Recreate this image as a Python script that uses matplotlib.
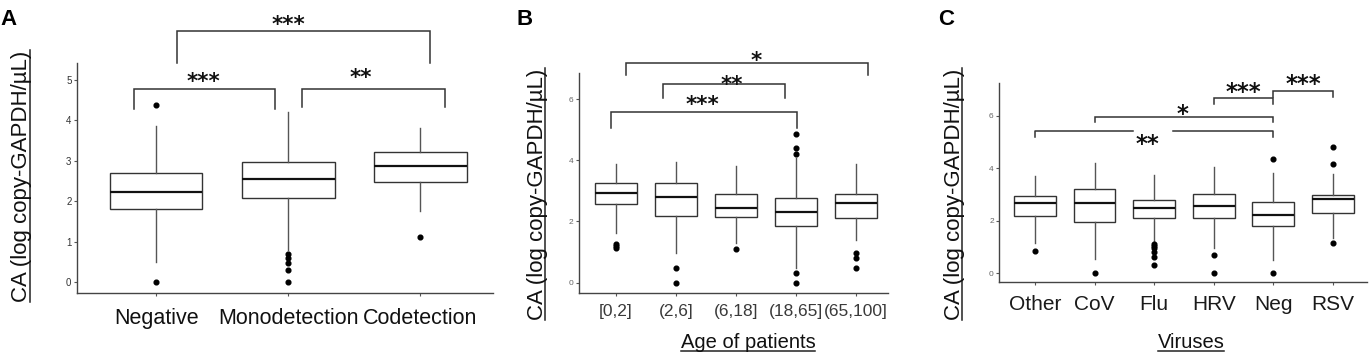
import matplotlib
matplotlib.use("Agg")
import matplotlib.pyplot as plt
from matplotlib.lines import Line2D

plt.rcParams['font.family'] = ['Liberation Sans', 'DejaVu Sans']

# ---------------- data ----------------
# Panel A
cats_a = ["Negative", "Monodetection", "Codetection"]
a_whislo = [0.49, 0.79, 1.76]
a_q1 = [1.82, 2.09, 2.47]
a_med = [2.22, 2.55, 2.87]
a_q3 = [2.71, 2.98, 3.23]
a_whishi = [3.86, 4.20, 3.80]
a_fliers = [[4.38, 0.0], [0.69, 0.59, 0.48, 0.30, 0.0], [1.12]]
a_yticks = [0, 1, 2, 3, 4, 5]
# brackets: (x1, x2, y_top, y_leg1, y_leg2, stars, star_x, star_y)
a_brackets = [
    (-0.17, 0.90, 4.77, 4.29, 4.29, "***", 0.36, 5.12),
    (1.10, 2.19, 4.77, 4.32, 4.32, "**", 1.55, 5.22),
    (0.16, 2.07, 6.20, 5.41, 5.41, "***", 1.00, 6.51),
]

# Panel B
cats_b = ["[0,2]", "(2,6]", "(6,18]", "(18,65]", "(65,100]"]
b_whislo = [1.61, 0.96, 1.29, 0.49, 1.40]
b_q1 = [2.56, 2.18, 2.16, 1.84, 2.10]
b_med = [2.92, 2.79, 2.45, 2.32, 2.59]
b_q3 = [3.25, 3.25, 2.90, 2.78, 2.89]
b_whishi = [3.87, 3.93, 3.81, 4.08, 3.87]
b_fliers = [[1.25, 1.18, 1.12], [0.49, 0.0], [1.09],
            [4.85, 4.39, 4.20, 0.31, 0.0], [0.98, 0.80, 0.49]]
b_yticks = [0, 2, 4, 6]
b_brackets = [
    (-0.07, 3.02, 5.57, 5.05, 5.05, "***", 1.45, 6.03),
    (0.78, 2.82, 6.48, 6.03, 6.03, "**", 1.93, 6.68),
    (0.18, 4.19, 7.17, 6.79, 6.79, "*", 2.34, 7.44),
]

# Panel C
cats_c = ["Other", "CoV", "Flu", "HRV", "Neg", "RSV"]
c_whislo = [1.14, 0.53, 1.15, 0.95, 0.51, 1.34]
c_q1 = [2.20, 1.96, 2.10, 2.10, 1.81, 2.29]
c_med = [2.69, 2.69, 2.48, 2.58, 2.22, 2.82]
c_q3 = [2.95, 3.23, 2.80, 3.04, 2.72, 2.99]
c_whishi = [3.73, 4.20, 3.75, 4.07, 3.82, 3.78]
c_fliers = [[0.86], [0.0], [1.12, 1.04, 0.95, 0.80, 0.61, 0.32],
            [0.71, 0.0], [4.37, 0.0], [4.83, 4.17, 1.14]]
c_yticks = [0, 2, 4, 6]
c_brackets = [
    (1.0, 4.0, 5.98, 5.76, 5.76, "*", 2.48, 6.32),
    (3.0, 4.0, 6.68, 6.46, 6.46, "***", 3.50, 7.16),
    (4.0, 5.0, 6.96, 6.74, 6.74, "***", 4.51, 7.47),
]
# bracket with a gap around its label
c_gap_bracket = (0.0, 4.0, 5.43, 5.19, 5.19, 1.65, 2.31, "**", 1.89, 5.16)

ylabel_text = "CA (log copy-GAPDH/\u00b5L)"

# ---------------- figure ----------------
W, H = 1372, 360
fig = plt.figure(figsize=(W / 100, H / 100), dpi=100)

def px_axes(l, t, r, b):
    return fig.add_axes([l / W, 1 - b / H, (r - l) / W, (b - t) / H])

LINE = '#333333'

def draw_box(ax, cats, lo, q1, med, q3, hi, fl, xlim, ylim, yticks,
             xfs, xcolor, xpad, yfs, ycolor):
    stats = []
    for c, a, b, m, d, e, f in zip(cats, lo, q1, med, q3, hi, fl):
        stats.append(dict(label=c, whislo=a, q1=b, med=m, q3=d, whishi=e, fliers=f))
    ax.bxp(stats, positions=list(range(len(cats))), widths=0.7, showcaps=False,
           patch_artist=True,
           boxprops=dict(facecolor='white', edgecolor=LINE, linewidth=1.0),
           whiskerprops=dict(color='#555555', linewidth=1.0),
           medianprops=dict(color='#111111', linewidth=1.6),
           flierprops=dict(marker='o', markerfacecolor='black',
                           markeredgecolor='black', markersize=3.4,
                           linestyle='none'))
    ax.set_xlim(*xlim)
    ax.set_ylim(*ylim)
    ax.set_yticks(yticks)
    ax.set_yticklabels([str(v) for v in yticks], fontsize=yfs, color=ycolor)
    ax.set_xticks(list(range(len(cats))))
    ax.set_xticklabels(cats, fontsize=xfs, color=xcolor)
    for s in ['top', 'right']:
        ax.spines[s].set_visible(False)
    for s in ['left', 'bottom']:
        ax.spines[s].set_color('#444444')
        ax.spines[s].set_linewidth(1.0)
    ax.tick_params(axis='x', length=2.5, width=0.8, color='#555555', pad=xpad)
    ax.tick_params(axis='y', length=2.5, width=0.8, color='#555555', pad=1.5)
    ax.set_facecolor('white')

def bracket(ax, x1, x2, yt, yl1, yl2):
    ax.plot([x1, x1, x2, x2], [yl1, yt, yt, yl2], color=LINE, lw=1.1,
            clip_on=False, solid_joinstyle='miter')

def stars(ax, s, x, y, fs=15.5):
    ax.annotate(s, xy=(x, y), xytext=(0, -0.58 * fs), textcoords='offset points',
                ha='center', va='baseline', fontsize=fs, fontweight='bold',
                color='#111111', annotation_clip=False,
                family=['DejaVu Sans'])

# Panel A
axA = px_axes(77, 63, 493, 293)
draw_box(axA, cats_a, a_whislo, a_q1, a_med, a_q3, a_whishi, a_fliers,
         (-0.6, 2.55), (-0.27, 5.42), a_yticks, 15.5, '#111111', 8, 7, '#333333')
for (x1, x2, yt, y1, y2, s, sx, sy) in a_brackets:
    bracket(axA, x1, x2, yt, y1, y2)
    stars(axA, s, sx, sy)

# Panel B
axB = px_axes(579, 73, 888, 292.7)
draw_box(axB, cats_b, b_whislo, b_q1, b_med, b_q3, b_whishi, b_fliers,
         (-0.61, 4.53), (-0.33, 6.85), b_yticks, 12.5, '#3a3a3a', 5.5, 6, '#666666')
for (x1, x2, yt, y1, y2, s, sx, sy) in b_brackets:
    bracket(axB, x1, x2, yt, y1, y2)
    stars(axB, s, sx, sy)

# Panel C
axC = px_axes(999.3, 82.7, 1366.7, 281.7)
draw_box(axC, cats_c, c_whislo, c_q1, c_med, c_q3, c_whishi, c_fliers,
         (-0.6, 5.57), (-0.32, 7.27), c_yticks, 15, '#1a1a1a', 7, 6, '#666666')
for (x1, x2, yt, y1, y2, s, sx, sy) in c_brackets:
    bracket(axC, x1, x2, yt, y1, y2)
    stars(axC, s, sx, sy, fs=16.5)
gx1, gx2, gyt, gy1, gy2, g0, g1, gs, gsx, gsy = c_gap_bracket
axC.plot([gx1, gx1, g0], [gy1, gyt, gyt], color=LINE, lw=1.1, clip_on=False)
axC.plot([g1, gx2, gx2], [gyt, gyt, gy2], color=LINE, lw=1.1, clip_on=False)
stars(axC, gs, gsx, gsy, fs=16.5)

# panel letters
for letter, xp in [("A", 0), ("B", 517), ("C", 938)]:
    fig.text(xp / W, 1 - 25 / H, letter, fontsize=16, fontweight='bold',
             ha='left', va='baseline', color='black')

# y labels (underlined)
ylabels = []
for xc, yc in [(22, 176), (537, 194), (954, 194)]:
    t = fig.text(xc / W, 1 - yc / H, ylabel_text, rotation=90, fontsize=16,
                 ha='center', va='center', color='#111111')
    ylabels.append(t)

# x labels (underlined)
xlabels = []
for xc, txt in [(748, "Age of patients"), (1191, "Viruses")]:
    t = fig.text(xc / W, 1 - 348 / H, txt, fontsize=14.5, ha='center',
                 va='baseline', color='#111111')
    xlabels.append(t)

fig.canvas.draw()
r = fig.canvas.get_renderer()
for t in ylabels:
    bb = t.get_window_extent(r)
    x = (bb.x1 - 2.5) / W
    fig.add_artist(Line2D([x, x], [bb.y0 / H, bb.y1 / H], transform=fig.transFigure,
                          color='#222222', lw=1.1))
for t in xlabels:
    bb = t.get_window_extent(r)
    y = (H - 350.5) / H
    fig.add_artist(Line2D([bb.x0 / W, bb.x1 / W], [y, y], transform=fig.transFigure,
                          color='#222222', lw=1.1))

fig.savefig("out.png", dpi=100, facecolor='white')
